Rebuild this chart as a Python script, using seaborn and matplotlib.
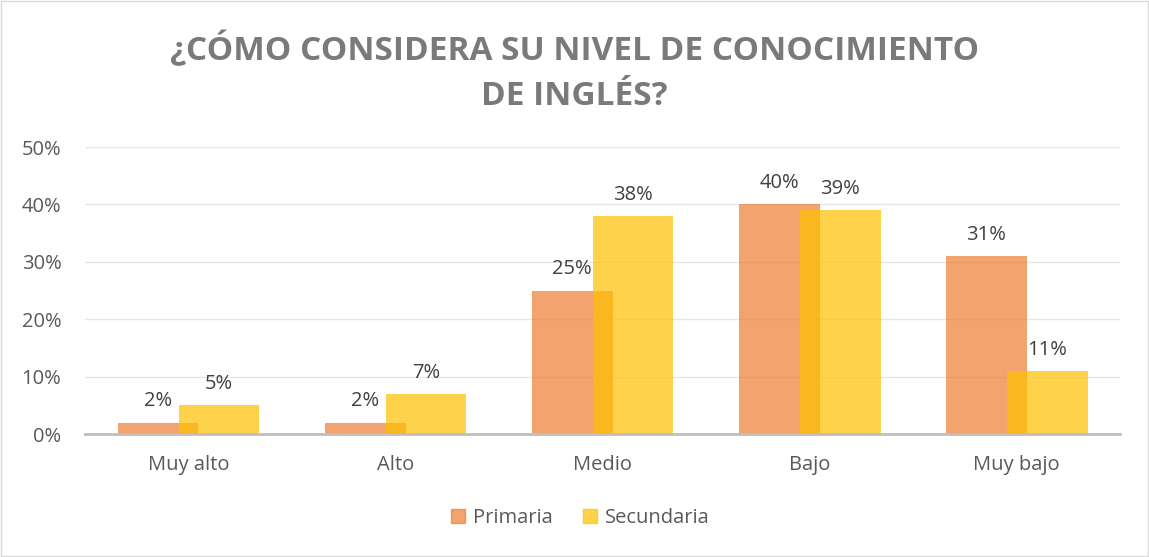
import matplotlib.pyplot as plt
import matplotlib.patches as mpatches
import numpy as np
import pandas as pd
import seaborn as sns

# data (percent)
niveles = ['Muy alto', 'Alto', 'Medio', 'Bajo', 'Muy bajo']
primaria = [2, 2, 25, 40, 31]
secundaria = [5, 7, 38, 39, 11]
yticks = [0, 10, 20, 30, 40, 50]

col_prim = '#ED7D31'
col_sec = '#FFC000'

sns.set_theme(style='white')
plt.rcParams['font.family'] = ['Open Sans', 'DejaVu Sans']

pos = np.arange(len(niveles))
shift = 0.147
df_p = pd.DataFrame({'x': pos - shift, 'valor': primaria})
df_s = pd.DataFrame({'x': pos + shift, 'valor': secundaria})

fig = plt.figure(figsize=(11.49, 5.57), dpi=100)
ax = fig.add_axes([0.074, 0.2208, 0.901, 0.5152])

sns.barplot(data=df_p, x='x', y='valor', native_scale=True, width=0.39,
            color=col_prim, alpha=0.7, saturation=1, linewidth=0, ax=ax)
sns.barplot(data=df_s, x='x', y='valor', native_scale=True, width=0.39,
            color=col_sec, alpha=0.7, saturation=1, linewidth=0, ax=ax)

ax.set_xlim(-0.5, len(niveles) - 0.5)
ax.set_ylim(0, 50)
ax.set_yticks(yticks)
ax.set_yticklabels([f'{v}%' for v in yticks], color='#595959', fontsize=14.5)
ax.set_xticks(pos)
ax.set_xticklabels(niveles, color='#595959', fontsize=14.5)
ax.tick_params(axis='x', length=0, pad=15)
ax.tick_params(axis='y', length=0, pad=17)
ax.set_xlabel('')
ax.set_ylabel('')
ax.grid(axis='y', color='#E6E6E6', linewidth=1)
ax.set_axisbelow(True)
for s in ['top', 'right', 'left']:
    ax.spines[s].set_visible(False)
ax.spines['bottom'].set_color('#BFBFBF')
ax.spines['bottom'].set_linewidth(2)

for xs, vals in [(pos - shift, primaria), (pos + shift, secundaria)]:
    for x, v in zip(xs, vals):
        ax.annotate(f'{v}%', (x, v), xytext=(0, 8), textcoords='offset points',
                    ha='center', va='bottom', fontsize=14.5, color='#404040')

fig.text(0.5, 0.870, '¿CÓMO CONSIDERA SU NIVEL DE CONOCIMIENTO\nDE INGLÉS?',
         ha='center', va='center', fontsize=24, fontweight='bold',
         color='#7A7A7A', linespacing=1.5)

handles = [mpatches.Patch(color=col_prim, alpha=0.7, label='Primaria'),
           mpatches.Patch(color=col_sec, alpha=0.7, label='Secundaria')]
leg = fig.legend(handles=handles, loc='center', bbox_to_anchor=(0.505, 0.07),
                 ncol=2, frameon=False, fontsize=14.5, handlelength=0.7,
                 handleheight=0.7, handletextpad=0.4, columnspacing=1.5)
for t in leg.get_texts():
    t.set_color('#595959')

fig.add_artist(mpatches.Rectangle((0.001, 0.002), 0.998, 0.996, transform=fig.transFigure,
                                  fill=False, edgecolor='#D9D9D9', linewidth=1))

fig.savefig('out.png', dpi=100)
